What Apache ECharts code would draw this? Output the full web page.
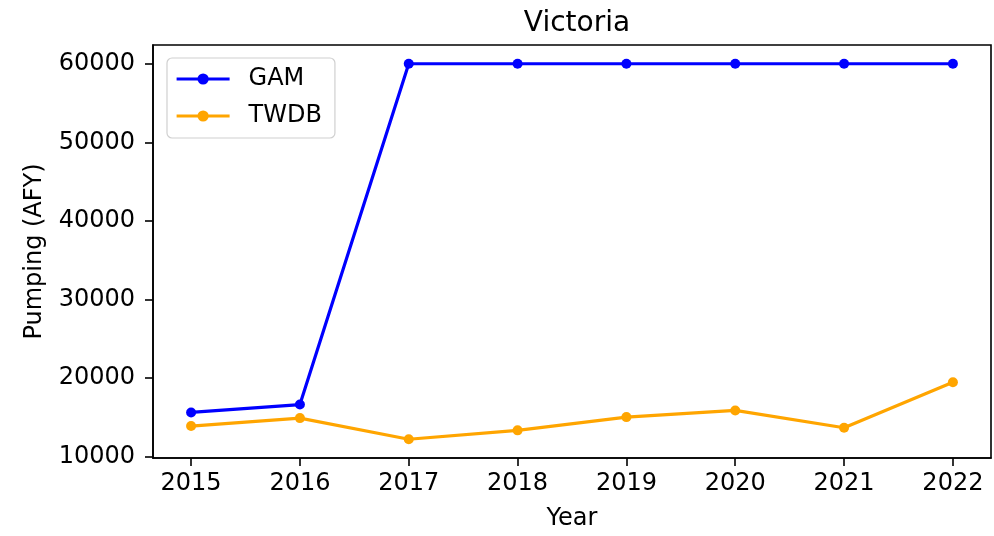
<!DOCTYPE html>
<html>
<head>
<meta charset="utf-8">
<script src="https://cdn.jsdelivr.net/npm/echarts@6/dist/echarts.min.js"></script>
<style>
html,body{margin:0;padding:0;background:#fff;}
#chart{width:994px;height:536px;}
</style>
</head>
<body>
<div id="chart"></div>
<script>
const years = [2015, 2016, 2017, 2018, 2019, 2020, 2021, 2022];
const gam = [15590, 16600, 60000, 60000, 60000, 60000, 60000, 60000];
const twdb = [13860, 14870, 12180, 13310, 15000, 15850, 13640, 19430];
const yTicks = [10000, 20000, 30000, 40000, 50000, 60000];

const font = 'DejaVu Sans';
const chart = echarts.init(document.getElementById('chart'), null, {renderer: 'canvas'});
const pairs = (vals) => years.map((y, i) => [y, vals[i]]);

chart.setOption({
  animation: false,
  backgroundColor: '#fff',
  title: {
    text: 'Victoria', left: 572, top: 5, textAlign: 'center',
    textStyle: {fontFamily: font, fontSize: 28, fontWeight: 'normal', color: '#000'}
  },
  grid: {left: 153, right: 3, top: 45, bottom: 75, show: true, borderColor: '#000', borderWidth: 1.6},
  legend: {
    left: 167, top: 58, orient: 'vertical',
    itemWidth: 53, itemHeight: 14, itemGap: 13,
    padding: [9, 13, 10, 8],
    borderColor: '#d0d0d0', borderWidth: 1.2, borderRadius: 5,
    backgroundColor: 'rgba(255,255,255,0.8)',
    lineStyle: {width: 3.2},
    textStyle: {fontFamily: font, fontSize: 24, lineHeight: 24, color: '#000', padding: [0, 0, 0, 14]},
    data: ['GAM', 'TWDB']
  },
  xAxis: {
    type: 'value', min: 2014.65, max: 2022.35,
    name: 'Year', nameLocation: 'middle', nameGap: 49,
    nameTextStyle: {fontFamily: font, fontSize: 24, color: '#000'},
    axisLine: {show: true, lineStyle: {color: '#000', width: 1.6}},
    axisTick: {show: true, length: 8, lineStyle: {color: '#000', width: 1.6}, customValues: years},
    axisLabel: {fontFamily: font, fontSize: 24, color: '#000', margin: 14, customValues: years, formatter: v => String(v)},
    splitLine: {show: false}
  },
  yAxis: {
    type: 'value', min: 9790, max: 62391,
    name: 'Pumping (AFY)', nameLocation: 'middle', nameGap: 106,
    nameTextStyle: {fontFamily: font, fontSize: 24, color: '#000'},
    axisLine: {show: true, lineStyle: {color: '#000', width: 1.6}},
    axisTick: {show: true, length: 8, lineStyle: {color: '#000', width: 1.6}, customValues: yTicks},
    axisLabel: {fontFamily: font, fontSize: 24, color: '#000', margin: 18, customValues: yTicks, formatter: v => String(v)},
    splitLine: {show: false}
  },
  series: [
    {
      name: 'GAM', type: 'line', data: pairs(gam),
      color: '#0000ff', symbol: 'circle', symbolSize: 10,
      lineStyle: {width: 3.2, color: '#0000ff'}, itemStyle: {color: '#0000ff'}
    },
    {
      name: 'TWDB', type: 'line', data: pairs(twdb),
      color: '#ffa500', symbol: 'circle', symbolSize: 10,
      lineStyle: {width: 3.2, color: '#ffa500'}, itemStyle: {color: '#ffa500'}
    }
  ]
});
</script>
</body>
</html>
